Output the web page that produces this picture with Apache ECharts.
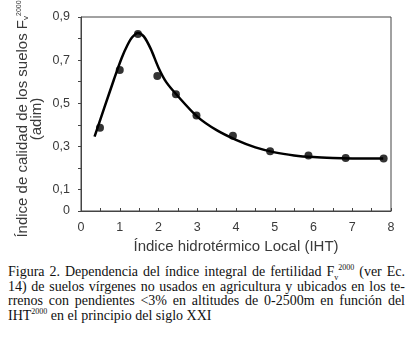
<!DOCTYPE html>
<html>
<head>
<meta charset="utf-8">
<script src="https://cdn.jsdelivr.net/npm/echarts@6/dist/echarts.min.js"></script>
<style>
	html, body { margin: 0; padding: 0; background: #fff; }
	#wrap { position: relative; width: 413px; height: 346px; overflow: hidden; }
	#chart { position: absolute; left: 0; top: 0; width: 413px; height: 262px; }
	#caption { position: absolute; left: 8px; top: 265px; width: 397px;
		font-family: "Liberation Serif", "DejaVu Serif", serif; font-size: 14px;
		line-height: 14.5px; color: #111; }
	#caption div { text-align: justify; text-align-last: justify; white-space: nowrap; }
	#caption div.last { text-align-last: left; }
	#caption sup, #caption sub { font-size: 8px; line-height: 0; }
</style>
</head>
<body>
<div id="wrap">
	<div id="chart"></div>
	<div id="caption">
		<div style="white-space:normal">Figura 2. Dependencia del índice integral de fertilidad F<sub>v</sub><sup>2000</sup> (ver Ec.</div>
		<div style="white-space:normal">14) de suelos vírgenes no usados en agricultura y ubicados en los te-</div>
		<div style="white-space:normal">rrenos con pendientes &lt;3% en altitudes de 0-2500m en función del</div>
		<div class="last">IHT<sup>2000</sup> en el principio del siglo XXI</div>
	</div>
</div>
<script>
	// medidos (puntos)
	var ihtObs = [0.49, 1.0, 1.47, 1.97, 2.45, 2.98, 3.92, 4.88, 5.87, 6.83, 7.81];
	var fvObs = [0.386, 0.654, 0.821, 0.626, 0.542, 0.443, 0.349, 0.277, 0.257, 0.246, 0.243];

	// curva ajustada
	var ihtFit = [0.35, 0.6, 0.85, 1.05, 1.2, 1.32, 1.47, 1.62, 1.8, 2.0, 2.2, 2.5, 3.0, 3.5, 4.0, 4.5, 5.0, 5.5, 6.0, 6.5, 7.0, 7.8];
	var fvFit = [0.345, 0.478, 0.61, 0.71, 0.77, 0.806, 0.826, 0.81, 0.752, 0.665, 0.598, 0.533, 0.438, 0.375, 0.33, 0.295, 0.272, 0.258, 0.25, 0.246, 0.244, 0.243];

	var yTickLabels = ['0', '0,1', '', '0,3', '', '0,5', '', '0,7', '', '0,9'];
	var xTickLabels = ['0', '1', '2', '3', '4', '5', '6', '7', '8'];

	var sans = '"Liberation Sans", Arial, sans-serif';
	var txt = '#3a3a3a';

	function pairs(xs, ys) {
		var out = [];
		for (var i = 0; i < xs.length; i++) out.push([xs[i], ys[i]]);
		return out;
	}

	var myChart = echarts.init(document.getElementById('chart'));
	var option = {
		animation: false,
		grid: {
			left: 81, right: 22, top: 17, bottom: 51,
			show: true, borderColor: '#444', borderWidth: 1
		},
		xAxis: {
			type: 'value', min: 0, max: 8, interval: 1,
			name: 'Índice hidrotérmico Local (IHT)',
			nameLocation: 'middle', nameGap: 27,
			nameTextStyle: { fontFamily: sans, fontSize: 15, color: txt },
			axisLine: { lineStyle: { color: '#444' } },
			axisTick: { inside: true, length: 3, lineStyle: { color: '#444' } },
			minorTick: { show: true, splitNumber: 2, length: 3, lineStyle: { color: '#444' } },
			splitLine: { show: false },
			axisLabel: {
				margin: 10, fontFamily: sans, fontSize: 12.5, color: txt,
				formatter: function(v) { return xTickLabels[Math.round(v)]; }
			}
		},
		yAxis: {
			type: 'value', min: 0, max: 0.9, interval: 0.1,
			axisLine: { show: true, lineStyle: { color: '#444' } },
			axisTick: { show: true, length: 3, lineStyle: { color: '#444' } },
			splitLine: { show: false },
			axisLabel: {
				margin: 11, fontFamily: sans, fontSize: 12.5, color: txt,
				formatter: function(v) { return yTickLabels[Math.round(v * 10)]; }
			}
		},
		graphic: [{
			type: 'text',
			x: 30, y: 119,
			rotation: Math.PI / 2,
			style: {
				text: '{t|Índice de calidad de los suelos F}{sub|v}{sup|2000}\n{t|(adim)}',
				align: 'center', verticalAlign: 'middle',
				rich: {
					t: { fontFamily: sans, fontSize: 15, lineHeight: 14, fill: txt, color: txt },
					sub: { fontFamily: sans, fontSize: 8, lineHeight: 14, verticalAlign: 'bottom', fill: txt, color: txt },
					sup: { fontFamily: sans, fontSize: 7, lineHeight: 8, verticalAlign: 'top', fill: txt, color: txt }
				}
			}
		}],
		series: [{
			type: 'line',
			data: pairs(ihtFit, fvFit),
			smooth: 0.3,
			showSymbol: false,
			lineStyle: { color: '#000', width: 2.5 },
			z: 2
		}, {
			type: 'scatter',
			data: pairs(ihtObs, fvObs),
			symbol: 'circle',
			symbolSize: 8,
			itemStyle: { color: '#000' },
			z: 3
		}]
	};
	myChart.setOption(option);
</script>
</body>
</html>
